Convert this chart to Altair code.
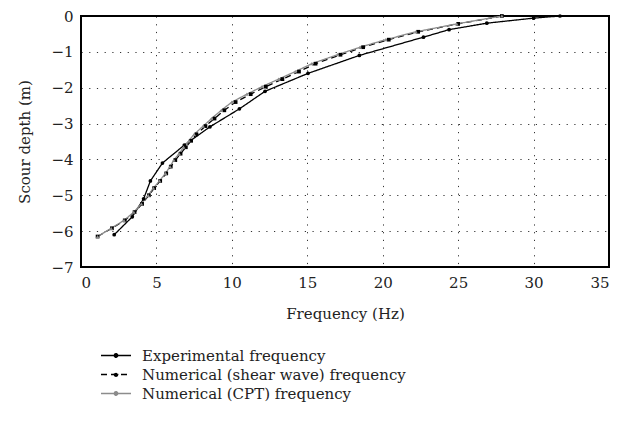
import altair as alt
import pandas as pd

series_names = ["Experimental frequency", "Numerical (shear wave) frequency", "Numerical (CPT) frequency"]
series_colors = ["#000000", "#000000", "#8c8c8c"]
series_shapes = ["circle", "square", "triangle-up"]

exp_freq = [2.2, 3.4, 4.15, 4.6, 5.4, 6.85, 8.55, 10.5, 12.2, 15.05, 18.45, 22.7, 24.4, 26.9, 30.0, 31.75]
exp_depth = [-6.1, -5.6, -5.1, -4.6, -4.1, -3.6, -3.09, -2.59, -2.1, -1.6, -1.1, -0.59, -0.38, -0.2, -0.06, 0.0]

cpt_freq = [1.1, 2.0, 2.85, 3.5, 4.0, 4.45, 4.8, 5.2, 5.6, 5.9, 6.15, 6.5, 6.8, 7.15, 7.5, 8.1, 8.65, 9.3, 10.0, 11.0, 12.0, 13.1, 14.2, 15.3, 17.0, 18.5, 20.2, 22.2, 24.9, 27.9]
cpt_depth = [-6.15, -5.92, -5.7, -5.47, -5.24, -5.0, -4.8, -4.6, -4.39, -4.2, -4.02, -3.84, -3.66, -3.48, -3.3, -3.07, -2.86, -2.63, -2.4, -2.18, -1.97, -1.76, -1.55, -1.33, -1.08, -0.87, -0.66, -0.44, -0.22, 0.0]

shear_freq = [1.1, 2.05, 2.9, 3.55, 4.05, 4.5, 4.85, 5.25, 5.65, 5.95, 6.25, 6.6, 6.95, 7.3, 7.65, 8.25, 8.85, 9.5, 10.25, 11.25, 12.25, 13.35, 14.45, 15.55, 17.2, 18.7, 20.4, 22.35, 25.0, 27.9]
shear_depth = cpt_depth

x_ticks = [0, 5, 10, 15, 20, 25, 30, 35]
y_ticks = [0, -1, -2, -3, -4, -5, -6, -7]

frames = []
for name, fr, dp in [(series_names[0], exp_freq, exp_depth),
                     (series_names[1], shear_freq, shear_depth),
                     (series_names[2], cpt_freq, cpt_depth)]:
    frames.append(pd.DataFrame({"series": name, "freq": fr, "depth": dp, "idx": range(len(fr))}))
df = pd.concat(frames, ignore_index=True)

FONT = "DejaVu Serif"
FS = 15

x = alt.X("freq:Q", scale=alt.Scale(domain=[0, 35], nice=False),
          axis=alt.Axis(values=x_ticks, title="Frequency (Hz)"))
y = alt.Y("depth:Q", scale=alt.Scale(domain=[-7, 0], nice=False),
          axis=alt.Axis(values=y_ticks, title="Scour depth (m)"))

# legend symbol: a line with a small dot in its middle (unit coords, scaled by sqrt(size)/2)
legend_path = "M-1,0L1,0M-0.12,0A0.12,0.12 0 1,0 0.12,0A0.12,0.12 0 1,0 -0.12,0Z"

leg = alt.Legend(title=None, orient="none", legendX=19, legendY=332, padding=0,
                 symbolType=legend_path, symbolSize=900, symbolStrokeWidth=1.3,
                 symbolOpacity=1,
                 clipHeight=15, rowPadding=3,
                 labelFont=FONT, labelFontSize=FS, labelColor="#222",
                 labelOffset=10, labelLimit=500)

cscale = alt.Scale(domain=series_names, range=series_colors)
color = alt.Color("series:N", scale=cscale, legend=leg)
dash = alt.StrokeDash("series:N", scale=alt.Scale(domain=series_names, range=[[1, 0], [6, 4], [1, 0]]), legend=leg)

lines = alt.Chart(df).mark_line(strokeWidth=1.3).encode(
    x=x, y=y, color=color, strokeDash=dash, order="idx:Q"
)

# invisible layer that only supplies the fill of the legend dots
legend_fill = alt.Chart(df).mark_point(filled=True, size=0, opacity=1).encode(
    x=x, y=y, fill=alt.Fill("series:N", scale=cscale, legend=leg)
)

point_layers = []
for name, col, shp in zip(series_names, series_colors, series_shapes):
    point_layers.append(
        alt.Chart(df).transform_filter(alt.datum.series == name)
        .mark_point(filled=True, size=14, opacity=1, color=col, shape=shp)
        .encode(x=x, y=y)
    )

chart = alt.layer(lines, legend_fill, *point_layers).properties(
    width=528, height=251,
    autosize=alt.AutoSizeParams(type="none"),
    padding={"left": 73, "top": 8, "right": 12, "bottom": 150},
).configure_view(
    stroke="#000", strokeWidth=2
).configure_axis(
    grid=True, gridColor="#000", gridDash=[1.2, 6.5], gridWidth=1, gridOpacity=0.8,
    domain=False, ticks=False,
    labelFont=FONT, labelFontSize=FS, labelColor="#222",
    titleFont=FONT, titleFontSize=FS, titleFontWeight="normal", titleColor="#222",
).configure_axisX(labelPadding=8, titlePadding=16).configure_axisY(labelPadding=8, titlePadding=18)

chart.save("out.html", embed_options={"renderer": "svg", "actions": False})
